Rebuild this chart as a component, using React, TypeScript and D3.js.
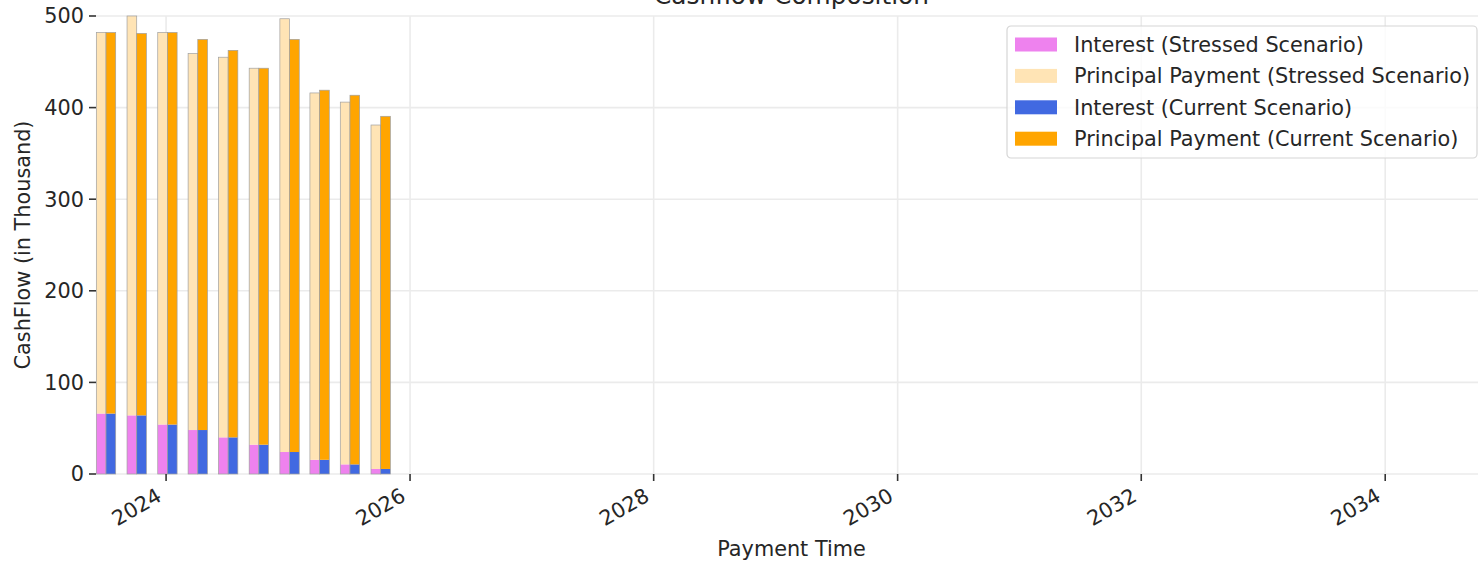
import * as d3 from "d3";
import { useEffect, useRef } from "react";

// quarterly payment dates
const paymentDates = [
  "2023-07-05",
  "2023-10-05",
  "2024-01-05",
  "2024-04-05",
  "2024-07-05",
  "2024-10-05",
  "2025-01-05",
  "2025-04-05",
  "2025-07-05",
  "2025-10-05",
];

// values in thousand
const interestStressed = [66, 64, 54, 48, 40, 32, 24, 15.5, 10.5, 5.5];
const principalStressed = [416, 436, 428, 411, 415, 411, 473, 400.5, 395.5, 375.5];
const interestCurrent = [66, 64, 54, 48, 40, 32, 24, 15.5, 10.5, 5.5];
const principalCurrent = [416, 417, 428, 426.5, 422.5, 411, 450.5, 403.5, 403, 385];

const yTicks = [0, 100, 200, 300, 400, 500];
const xDomain = ["2023-06-05", "2034-11-02"];

const legendLabels = [
  "Interest (Stressed Scenario)",
  "Principal Payment (Stressed Scenario)",
  "Interest (Current Scenario)",
  "Principal Payment (Current Scenario)",
];
const legendColors = ["violet", "moccasin", "royalblue", "orange"];

const FONT = "'DejaVu Sans', sans-serif";
const FS = 20.8;
const TEXT = "#262626";
const GRID = "#ebebeb";
const BAR_DAYS = 29;

export default function App() {
  const ref = useRef<HTMLDivElement>(null);

  useEffect(() => {
    const width = 1478;
    const height = 562;
    const margin = { top: 16, right: -9, bottom: 88, left: 96 };

    d3.select(ref.current).select("svg").remove();

    const svg = d3
      .select(ref.current)
      .append("svg")
      .attr("width", width)
      .attr("height", height)
      .style("position", "absolute")
      .style("left", "0px")
      .style("top", "0px")
      .style("font-family", FONT);

    const parse = d3.utcParse("%Y-%m-%d");
    const dates = paymentDates.map((d) => parse(d) as Date);

    const x = d3
      .scaleUtc()
      .domain(xDomain.map((d) => parse(d) as Date))
      .range([margin.left, width - margin.right]);

    const y = d3
      .scaleLinear()
      .domain([0, 500])
      .range([height - margin.bottom, margin.top]);

    const xTicks = x.ticks(d3.utcYear.every(2) as d3.TimeInterval);
    const x0 = margin.left;
    const x1 = width - margin.right;
    const yBottom = y(0);

    // grid
    svg
      .append("g")
      .selectAll("line")
      .data(yTicks)
      .enter()
      .append("line")
      .attr("x1", x0)
      .attr("x2", x1)
      .attr("y1", (d) => y(d))
      .attr("y2", (d) => y(d))
      .attr("stroke", GRID)
      .attr("stroke-width", 1.6);

    svg
      .append("g")
      .selectAll("line")
      .data(xTicks)
      .enter()
      .append("line")
      .attr("x1", (d) => x(d))
      .attr("x2", (d) => x(d))
      .attr("y1", y(500))
      .attr("y2", yBottom)
      .attr("stroke", GRID)
      .attr("stroke-width", 1.6);

    // bars
    const day = 24 * 3600 * 1000;
    const groups = [
      {
        start: (d: Date) => new Date(d.getTime() - BAR_DAYS * day),
        interest: interestStressed,
        principal: principalStressed,
        colors: [legendColors[0], legendColors[1]],
      },
      {
        start: (d: Date) => d,
        interest: interestCurrent,
        principal: principalCurrent,
        colors: [legendColors[2], legendColors[3]],
      },
    ];

    const bars = svg.append("g");
    groups.forEach((g) => {
      const bx = (i: number) => x(g.start(dates[i]));
      const bw = (i: number) =>
        x(new Date(g.start(dates[i]).getTime() + BAR_DAYS * day)) - bx(i);
      const idx = dates.map((_, i) => i);

      bars
        .append("g")
        .selectAll("rect")
        .data(idx)
        .enter()
        .append("rect")
        .attr("x", bx)
        .attr("width", bw)
        .attr("y", (i) => y(g.interest[i]))
        .attr("height", (i) => yBottom - y(g.interest[i]))
        .attr("fill", g.colors[0]);

      bars
        .append("g")
        .selectAll("rect")
        .data(idx)
        .enter()
        .append("rect")
        .attr("x", bx)
        .attr("width", bw)
        .attr("y", (i) => y(g.interest[i] + g.principal[i]))
        .attr("height", (i) => y(g.interest[i]) - y(g.interest[i] + g.principal[i]))
        .attr("fill", g.colors[1]);

      // thin outline round each column
      bars
        .append("g")
        .selectAll("rect")
        .data(idx)
        .enter()
        .append("rect")
        .attr("x", bx)
        .attr("width", bw)
        .attr("y", (i) => y(g.interest[i] + g.principal[i]))
        .attr("height", (i) => yBottom - y(g.interest[i] + g.principal[i]))
        .attr("fill", "none")
        .attr("stroke", "#a0a0a0")
        .attr("stroke-width", 0.7);
    });

    // x axis ticks + rotated labels
    const xa = svg.append("g");
    xa.selectAll("line")
      .data(xTicks)
      .enter()
      .append("line")
      .attr("x1", (d) => x(d))
      .attr("x2", (d) => x(d))
      .attr("y1", yBottom)
      .attr("y2", yBottom + 7)
      .attr("stroke", "#333")
      .attr("stroke-width", 1.6);
    xa.selectAll("text")
      .data(xTicks)
      .enter()
      .append("text")
      .attr("transform", (d) => `translate(${x(d) - 3},${yBottom + 26}) rotate(-30)`)
      .attr("text-anchor", "end")
      .attr("font-size", FS)
      .attr("fill", TEXT)
      .text((d) => d3.utcFormat("%Y")(d));

    // y axis ticks + labels
    const ya = svg.append("g");
    ya.selectAll("line")
      .data(yTicks)
      .enter()
      .append("line")
      .attr("x1", x0 - 7)
      .attr("x2", x0)
      .attr("y1", (d) => y(d))
      .attr("y2", (d) => y(d))
      .attr("stroke", "#333")
      .attr("stroke-width", 1.6);
    ya.selectAll("text")
      .data(yTicks)
      .enter()
      .append("text")
      .attr("x", x0 - 12)
      .attr("y", (d) => y(d))
      .attr("dy", "0.36em")
      .attr("text-anchor", "end")
      .attr("font-size", FS)
      .attr("fill", TEXT)
      .text((d) => d);

    // axis titles
    svg
      .append("text")
      .attr("x", (x0 + x1) / 2)
      .attr("y", 556)
      .attr("text-anchor", "middle")
      .attr("font-size", FS)
      .attr("fill", TEXT)
      .text("Payment Time");

    svg
      .append("text")
      .attr("transform", `translate(29.5,${(y(0) + y(500)) / 2}) rotate(-90)`)
      .attr("text-anchor", "middle")
      .attr("font-size", FS)
      .attr("fill", TEXT)
      .text("CashFlow (in Thousand)");

    // title sits partly above the page, as in the original capture
    svg
      .append("text")
      .attr("x", (x0 + x1) / 2)
      .attr("y", y(500) - 12)
      .attr("text-anchor", "middle")
      .attr("font-size", 24.8)
      .attr("fill", TEXT)
      .text("Cashflow Composition");

    // legend
    const lg = svg.append("g").attr("transform", "translate(1007,26)");
    lg.append("rect")
      .attr("width", 470)
      .attr("height", 132)
      .attr("rx", 4)
      .attr("fill", "white")
      .attr("fill-opacity", 0.8)
      .attr("stroke", "#d6d6d6")
      .attr("stroke-width", 1.2);
    const items = lg
      .selectAll("g.item")
      .data(legendLabels)
      .enter()
      .append("g")
      .attr("class", "item")
      .attr("transform", (_, i) => `translate(0,${18.5 + i * 31.4})`);
    items
      .append("rect")
      .attr("x", 8)
      .attr("y", -7)
      .attr("width", 42)
      .attr("height", 14)
      .attr("fill", (_, i) => legendColors[i]);
    items
      .append("text")
      .attr("x", 67)
      .attr("dy", "0.36em")
      .attr("font-size", FS)
      .attr("fill", TEXT)
      .text((d) => d);
  }, []);

  return <div ref={ref}></div>;
}
